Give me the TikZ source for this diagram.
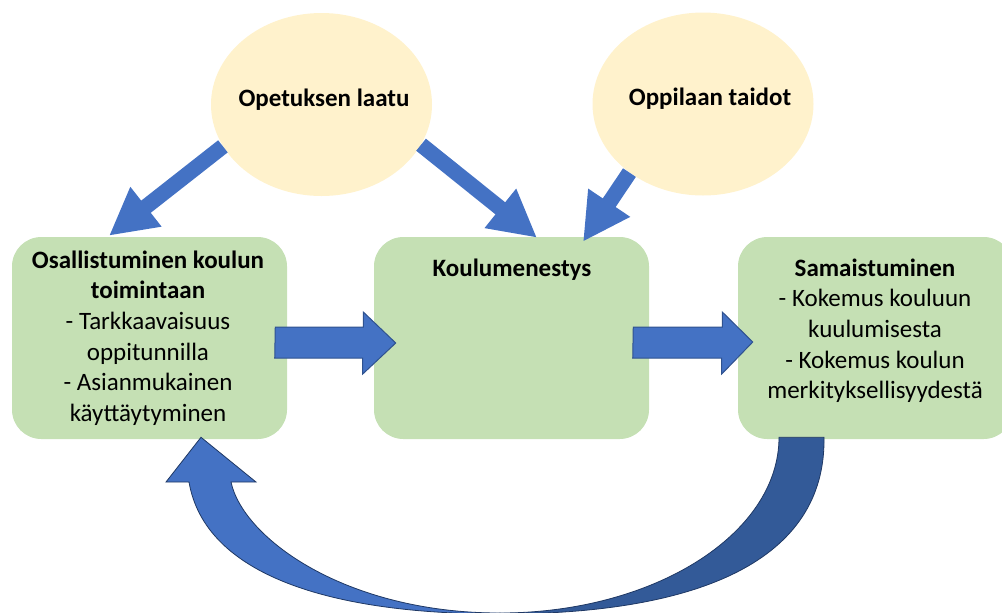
\documentclass[tikz,border=0pt]{standalone}
\usepackage{fontspec}
\setmainfont{Carlito}
\usetikzlibrary{arrows.meta,calc,shapes.geometric}
\definecolor{boxgreen}{HTML}{C5E0B4}
\definecolor{ellyellow}{HTML}{FFF2CC}
\definecolor{arrowblue}{HTML}{4472C4}
\definecolor{arrowdark}{HTML}{335A98}
\definecolor{arrowline}{HTML}{2F528F}
\definecolor{curveline}{HTML}{1F3864}
\begin{document}
\begin{tikzpicture}[x=0.75pt,y=-0.75pt,
  box/.style={fill=boxgreen, rounded corners=22pt, minimum width=206.25pt, minimum height=151.5pt, inner sep=0pt},
  ell/.style={ellipse, fill=ellyellow, minimum width=165.75pt, minimum height=137.25pt, inner sep=0pt},
  txt/.style={font=\fontsize{18.75}{22.95}\selectfont, align=center, inner sep=0pt, anchor=north},
  elltxt/.style={font=\fontsize{18.75}{22.95}\selectfont\bfseries, inner sep=0pt, anchor=base},
  linearrow/.style={draw=arrowblue, line width=11.6pt, -{Triangle[length=35.25pt, width=35.25pt]}},
  blockarrow/.style={fill=arrowblue, draw=arrowline, line width=0.75pt, line join=miter},
  curvelight/.style={fill=arrowblue, draw=curveline, line width=0.6pt},
  curvedark/.style={fill=arrowdark, draw=curveline, line width=0.6pt}]
\path[use as bounding box, clip] (0,0) rectangle (1002,612);

% ellipses
\node[ell] (e1) at (321.5,104.5) {};
\node[ell] (e2) at (703,104) {};
\node[elltxt] (t1) at ($(e1)+(2.5,1.5)$) {Opetuksen laatu};
\node[elltxt] (t2) at ($(e2)+(7,1)$) {Oppilaan taidot};

% boxes
\node[box] (b1) at (149.5,338) {};
\node[box] (b2) at (511.5,338) {};
\node[box] (b3) at (875.5,338) {};

\node[txt] (bt1) at (148,246.6) {\strut\textbf{Osallistuminen koulun}\\\textbf{toimintaan}\\- Tarkkaavaisuus\\oppitunnilla\\- Asianmukainen\\käyttäytyminen};
\node[txt] (bt2) at (512,254.6) {\strut\textbf{Koulumenestys}};
\node[txt] (bt3) at (875,254.6) {\strut\textbf{Samaistuminen}\\- Kokemus kouluun\\kuulumisesta\\- Kokemus koulun\\merkityksellisyydestä};

% straight arrows from ellipses
\draw[linearrow] (e1.203.5) -- ($(b1.north)+(-40.5,-1)$);
\draw[linearrow] (e1.338.4) -- ($(b2.north)+(25.5,1)$);
\draw[linearrow] (e2.223.7) -- ($(b2.north)+(71.5,5)$);

% block arrows between boxes
\draw[blockarrow] ($(b1.east)+(-12,-11)$) -- ++(88,0) -- ++(0,-15) -- ($(b2.west)+(22,5)$) -- ++(-33,31) -- ++(0,-16) -- ++(-88,0) -- cycle;
\draw[blockarrow] ($(b2.east)+(-16,-11)$) -- ++(89,0) -- ++(0,-15) -- ($(b3.west)+(15,4)$) -- ++(-31,32) -- ++(0,-16) -- ++(-89,0) -- cycle;

% curved arrow from b3 back to b1
\draw[curvedark] ($(b3.south)+(-96.5,-2)$) -- ($(b3.south)+(-51.5,-2)$)
  .. controls (826,560) and (700,614) .. (500,614) -- (500,613)
  .. controls (654,613) and (779,534) .. ($(b3.south)+(-96.5,-2)$) -- cycle;
\draw[curvelight] (500,614) .. controls (330,614) and (205,575) .. (189,482)
  -- (166,482) -- ($(b1.south)+(51.5,-2)$) -- (256,482) -- (231,482)
  .. controls (243,538) and (345,613) .. (500,613) -- cycle;
\end{tikzpicture}
\end{document}
